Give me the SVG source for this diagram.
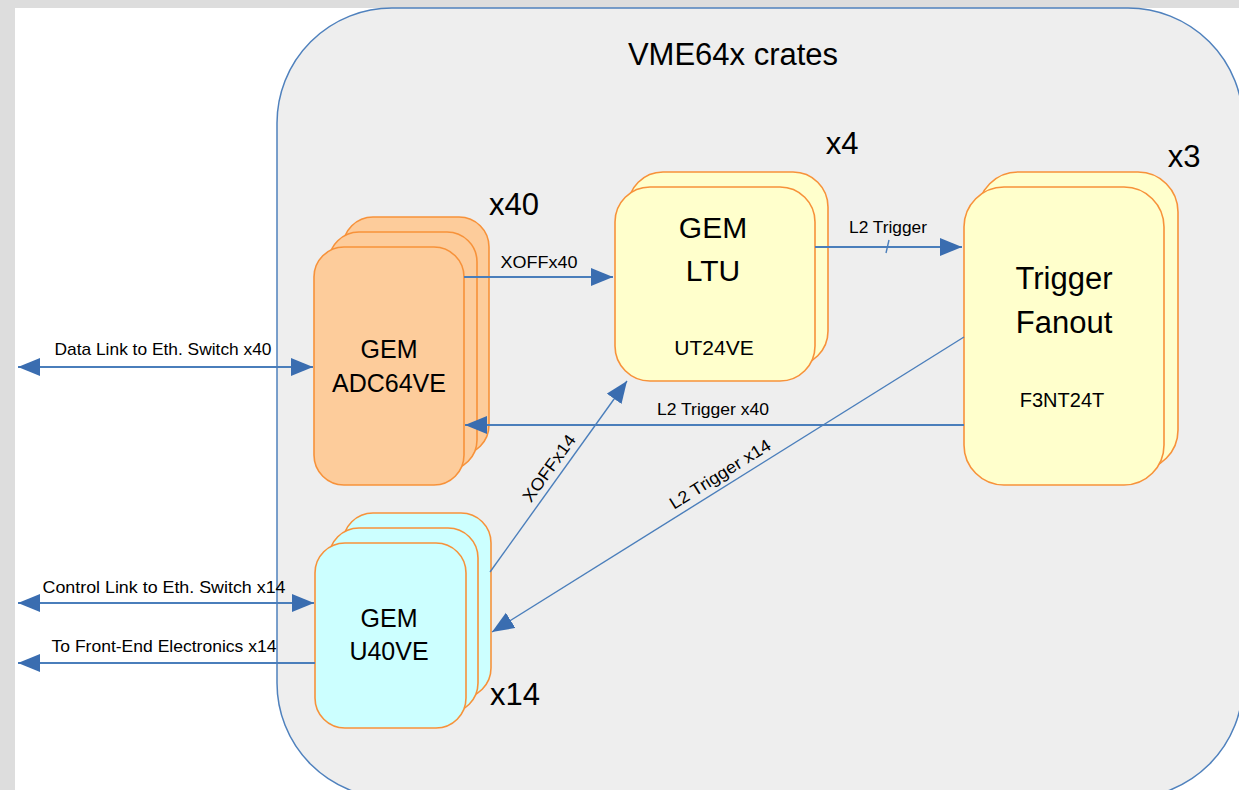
<svg xmlns="http://www.w3.org/2000/svg" width="1239" height="790" viewBox="0 0 1239 790">
  <style>
    text { font-family: "Liberation Sans", Arial, sans-serif; fill: #000; }
    .lbl { font-size: 17px; }
    .big { font-size: 31px; }
    .card { stroke: #f7923a; stroke-width: 1.6; }
    .adc { fill: #fdcc9b; }
    .ltu { fill: #ffffcc; }
    .u40 { fill: #ccffff; }
    .wire { fill: none; stroke: #4a7ebb; stroke-width: 2; }
    .thin { fill: none; stroke: #4a7ebb; stroke-width: 1.4; }
  </style>
  <defs>
    <marker id="arrow" markerUnits="userSpaceOnUse" markerWidth="24" markerHeight="20" refX="22" refY="9" orient="auto-start-reverse">
      <path d="M0,0 L22,9 L0,18 z" fill="#3a6db0"/>
    </marker>
  </defs>

  <!-- page -->
  <rect x="0" y="0" width="1239" height="790" fill="#dddddd"/>
  <rect x="15" y="8" width="1224" height="782" fill="#ffffff"/>

  <!-- crate enclosure -->
  <g id="crate">
    <rect x="277" y="8" width="966" height="790" rx="115" ry="115" fill="#eeeeee" stroke="#4f81bd" stroke-width="1.5"/>
    <text x="733" y="65" text-anchor="middle" class="big">VME64x crates</text>
  </g>

  <!-- ADC64VE stack -->
  <g id="adc64ve">
    <rect class="card adc" x="343" y="217" width="146" height="238" rx="30"/>
    <rect class="card adc" x="329" y="232" width="148" height="238" rx="30"/>
    <rect class="card adc" x="314" y="247" width="150" height="238" rx="30"/>
    <text x="389" y="358" text-anchor="middle" font-size="25">GEM</text>
    <text x="389" y="392" text-anchor="middle" font-size="25">ADC64VE</text>
    <text x="514" y="215" text-anchor="middle" class="big">x40</text>
  </g>

  <!-- LTU stack -->
  <g id="ltu">
    <rect class="card ltu" x="628" y="172" width="200" height="194" rx="35"/>
    <rect class="card ltu" x="615" y="187" width="200" height="194" rx="35"/>
    <text x="713" y="238" text-anchor="middle" font-size="30">GEM</text>
    <text x="713" y="281" text-anchor="middle" font-size="30">LTU</text>
    <text x="714" y="355" text-anchor="middle" font-size="21">UT24VE</text>
    <text x="842" y="154" text-anchor="middle" class="big">x4</text>
  </g>

  <!-- Trigger fanout stack -->
  <g id="fanout">
    <rect class="card ltu" x="978" y="172" width="200" height="298" rx="40"/>
    <rect class="card ltu" x="964" y="187" width="200" height="298" rx="40"/>
    <text x="1064" y="289" text-anchor="middle" font-size="31">Trigger</text>
    <text x="1064" y="333" text-anchor="middle" font-size="31">Fanout</text>
    <text x="1062" y="407" text-anchor="middle" font-size="20">F3NT24T</text>
    <text x="1184" y="167" text-anchor="middle" class="big">x3</text>
  </g>

  <!-- U40VE stack -->
  <g id="u40ve">
    <rect class="card u40" x="343" y="513" width="148" height="185" rx="30"/>
    <rect class="card u40" x="329" y="528" width="149" height="185" rx="30"/>
    <rect class="card u40" x="315" y="543" width="151" height="185" rx="30"/>
    <text x="389" y="627" text-anchor="middle" font-size="25">GEM</text>
    <text x="389" y="660" text-anchor="middle" font-size="25">U40VE</text>
    <text x="515" y="705" text-anchor="middle" class="big">x14</text>
  </g>

  <!-- connectors, drawn over the card stacks -->
  <g id="connectors">
    <line class="wire" x1="18" y1="367" x2="313" y2="367" marker-start="url(#arrow)" marker-end="url(#arrow)"/>
    <text class="lbl" x="163" y="355" text-anchor="middle" textLength="217" lengthAdjust="spacingAndGlyphs">Data Link to Eth. Switch x40</text>

    <line class="wire" x1="18" y1="603" x2="314" y2="603" marker-start="url(#arrow)" marker-end="url(#arrow)"/>
    <text class="lbl" x="164" y="593" text-anchor="middle" textLength="243" lengthAdjust="spacingAndGlyphs">Control  Link to Eth. Switch x14</text>

    <line class="wire" x1="315" y1="663" x2="18" y2="663" marker-end="url(#arrow)"/>
    <text class="lbl" x="164" y="652" text-anchor="middle" textLength="225" lengthAdjust="spacingAndGlyphs">To Front-End Electronics x14</text>

    <line class="wire" x1="464" y1="277" x2="613" y2="277" marker-end="url(#arrow)"/>
    <text class="lbl" x="539" y="268" text-anchor="middle" textLength="77" lengthAdjust="spacingAndGlyphs">XOFFx40</text>

    <line class="wire" x1="815" y1="247" x2="962" y2="247" marker-end="url(#arrow)"/>
    <line class="thin" x1="886" y1="253" x2="889" y2="240"/>
    <text class="lbl" x="888" y="233" text-anchor="middle" textLength="78" lengthAdjust="spacingAndGlyphs">L2 Trigger</text>

    <line class="wire" x1="964" y1="425" x2="465" y2="425" marker-end="url(#arrow)"/>
    <text class="lbl" x="713" y="415" text-anchor="middle" textLength="112" lengthAdjust="spacingAndGlyphs">L2 Trigger x40</text>

    <line class="thin" x1="490" y1="572" x2="627" y2="381" marker-end="url(#arrow)"/>
    <text class="lbl" transform="translate(549,468) rotate(-54.2)" x="0" y="6" text-anchor="middle" textLength="78" lengthAdjust="spacingAndGlyphs">XOFFx14</text>

    <line class="thin" x1="964" y1="337" x2="492" y2="632" marker-end="url(#arrow)"/>
    <text class="lbl" transform="translate(720,474) rotate(-32)" x="0" y="6" text-anchor="middle" textLength="116" lengthAdjust="spacingAndGlyphs">L2 Trigger x14</text>
  </g>
</svg>
